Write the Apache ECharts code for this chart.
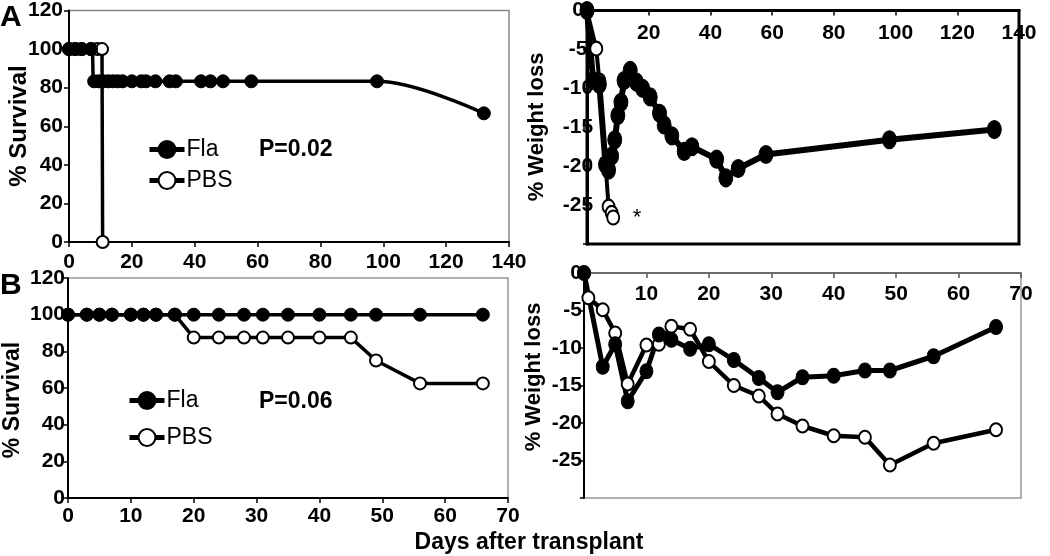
<!DOCTYPE html>
<html>
<head>
<meta charset="utf-8">
<script src="https://cdn.jsdelivr.net/npm/echarts@6/dist/echarts.min.js"></script>
<style>
  html, body { margin: 0; padding: 0; background: #fff; }
  #chart { width: 1050px; height: 556px; }
</style>
</head>
<body>
<div id="chart"></div>
<script>
// panel A - survival (day, %)
var survA_fla = [[0,100],[2,100],[4,100],[7,100],[8,83.3],[9.5,83.3],[11,83.3],[12.5,83.3],[14,83.3],[15.5,83.3],[17,83.3],[20,83.3],[23,83.3],[24.5,83.3],[27.5,83.3],[32,83.3],[34,83.3],[42,83.3],[45,83.3],[49,83.3],[58,83.3],[98,83.3],[132,66.7]];
var survA_pbs = [[0,100],[2,100],[4,100],[7,100],[9,100],[10.5,100],[10.7,0]];

// panel A - weight loss (day, %)
var wtA_fla = [[0,0],[2,-9],[4,-9.5],[6,-19.8],[7,-20.5],[8,-18.7],[9,-16.6],[10,-13.5],[11,-11.8],[12,-9],[14,-7.7],[16,-9.2],[18,-10],[20.5,-11.1],[23.5,-13.2],[25,-14.7],[27.5,-16.1],[31.5,-18.1],[34,-17.5],[42,-19.1],[45,-21.5],[49,-20.3],[58,-18.5],[98,-16.6],[132,-15.3]];
var wtA_pbs = [[0,0],[3,-4.9],[4,-9],[7,-25.2],[8,-26],[8.5,-26.6]];

// panel B - survival
var survB_days = [0,3,5,7,10,12,14,17,20,24,28,31,35,40,45,49,56,66];
var survB_fla = [100,100,100,100,100,100,100,100,100,100,100,100,100,100,100,100,100,100];
var survB_pbs = [100,100,100,100,100,100,100,100,87.5,87.5,87.5,87.5,87.5,87.5,87.5,75,62.5,62.5];

// panel B - weight loss
var wtB_fla_days = [0,3,5,7,10,12,14,17,20,24,28,31,35,40,45,49,56,66];
var wtB_fla = [0,-12.5,-9.5,-17.1,-13.1,-8.2,-8.9,-10.1,-9.5,-11.6,-14,-15.9,-13.9,-13.7,-13,-13,-11.1,-7.2];
var wtB_pbs_days = [0,0.7,3,5,7,10,12,14,17,20,24,28,31,35,40,45,49,56,66];
var wtB_pbs = [0,-3.3,-4.9,-8,-14.8,-9.6,-9.5,-7.1,-7.5,-11.8,-15,-16.4,-18.8,-20.4,-21.7,-21.9,-25.6,-22.7,-20.9];

function zip(a, b) {
    var out = [];
    for (var i = 0; i < a.length; i++) out.push([a[i], b[i]]);
    return out;
}

var FONT = 'Liberation Sans, Arial, Helvetica, sans-serif';
var tickLbl = { color: '#000', fontFamily: FONT, fontWeight: 'bold', fontSize: 21 };

function survX(idx, max, interval, margin) {
    return {
        gridIndex: idx, type: 'value', min: 0, max: max, interval: interval,
        axisLine: { lineStyle: { color: '#000', width: 2 } },
        axisTick: { length: 5, lineStyle: { color: '#000', width: 1.5 } },
        axisLabel: Object.assign({ margin: margin }, tickLbl),
        splitLine: { show: false }
    };
}
function survY(idx, margin) {
    return {
        gridIndex: idx, type: 'value', min: 0, max: 120, interval: 20,
        axisLine: { show: true, lineStyle: { color: '#000', width: 2 } },
        axisTick: { show: true, length: 5, lineStyle: { color: '#000', width: 1.5 } },
        axisLabel: Object.assign({ margin: margin }, tickLbl),
        splitLine: { show: false }
    };
}
function wtX(idx, max, interval, margin, col, w) {
    return {
        gridIndex: idx, type: 'value', position: 'top', min: 0, max: max, interval: interval,
        axisLine: { lineStyle: { color: col, width: w } },
        axisTick: { inside: true, length: 5, lineStyle: { color: col, width: 1.5 } },
        axisLabel: Object.assign({
            inside: true, margin: margin,
            formatter: function (v) { return v === 0 ? '' : v; }
        }, tickLbl),
        splitLine: { show: false }
    };
}
function wtY(idx, margin, align, w) {
    return {
        gridIndex: idx, type: 'value', min: -30, max: 0, interval: 5,
        axisLine: { show: true, lineStyle: { color: '#000', width: w } },
        axisTick: { show: true, length: 4, lineStyle: { color: '#000', width: 1.5 } },
        axisLabel: Object.assign({
            margin: margin, align: align,
            formatter: function (v) { return v === -30 ? '' : v; }
        }, tickLbl),
        splitLine: { show: false }
    };
}

function fla(data, xi, size, lw, smooth) {
    return {
        name: 'Fla', type: 'line', xAxisIndex: xi, yAxisIndex: xi, data: data,
        symbol: 'circle', symbolSize: size, smooth: smooth || false,
        lineStyle: { color: '#000', width: lw },
        itemStyle: { color: '#000', borderColor: '#000', borderWidth: 1 },
        emphasis: { disabled: true }, animation: false
    };
}
function pbs(data, xi, size, lw) {
    return {
        name: 'PBS', type: 'line', xAxisIndex: xi, yAxisIndex: xi, data: data,
        symbol: 'circle', symbolSize: size,
        lineStyle: { color: '#000', width: lw },
        itemStyle: { color: '#fff', borderColor: '#000', borderWidth: 2 },
        emphasis: { disabled: true }, animation: false
    };
}

function legendAt(left, top, gap) {
    return {
        orient: 'vertical', left: left, top: top, itemGap: gap,
        itemWidth: 35, itemHeight: 21, selectedMode: false,
        data: ['Fla', 'PBS'],
        lineStyle: { width: 5, color: '#000' },
        textStyle: { color: '#000', fontFamily: FONT, fontSize: 23, padding: [0, 0, 0, -3] }
    };
}

function txt(x, y, text, size, bold, rot, align) {
    return {
        type: 'text', x: x, y: y, rotation: rot || 0,
        style: {
            text: text, fill: '#000',
            font: (bold ? 'bold ' : '') + size + 'px ' + FONT,
            textAlign: align || 'center', textVerticalAlign: 'middle'
        }
    };
}

var chart = echarts.init(document.getElementById('chart'));
chart.setOption({
    backgroundColor: '#fff',
    animation: false,
    grid: [
        { left: 69, right: 541, top: 7, bottom: 314, show: true, borderColor: '#888', borderWidth: 1.5 },
        { left: 587, right: 31, top: 10, bottom: 312, show: true, borderColor: '#000', borderWidth: 3 },
        { left: 68, right: 542, top: 278, bottom: 58, show: true, borderColor: '#999', borderWidth: 1.5 },
        { left: 584, right: 29, top: 273, bottom: 58, show: true, borderColor: '#999', borderWidth: 1.5 }
    ],
    xAxis: [
        survX(0, 140, 20, 10),
        wtX(1, 140, 20, 12, '#000', 3),
        survX(2, 70, 10, 8),
        wtX(3, 70, 10, 11, '#555', 1.5)
    ],
    yAxis: [
        survY(0, 6),
        wtY(1, 9, 'center', 3),
        survY(2, 3),
        wtY(3, 2, 'right', 2)
    ],
    legend: [legendAt(142, 133, 8), legendAt(122, 384, 14)],
    series: [
        pbs(survA_pbs, 0, 12, 3.5),
        fla(survA_fla, 0, 13, 3.5, 0.35),
        pbs(wtA_pbs, 1, [12, 14], 4),
        fla(wtA_fla, 1, [14, 18], 6),
        pbs(zip(survB_days, survB_pbs), 2, 12, 3.5),
        fla(zip(survB_days, survB_fla), 2, 13, 3.5),
        pbs(zip(wtB_pbs_days, wtB_pbs), 3, [12, 13], 4.5),
        fla(zip(wtB_fla_days, wtB_fla), 3, [13, 15], 5)
    ],
    graphic: [
        txt(0, 18, 'A', 30, true, 0, 'left'),
        txt(0, 286, 'B', 30, true, 0, 'left'),
        txt(19, 126, '% Survival', 24, true, Math.PI / 2),
        txt(13, 400, '% Survival', 23, true, Math.PI / 2),
        txt(537, 127, '% Weight loss', 22, true, Math.PI / 2),
        txt(534, 377, '% Weight loss', 22, true, Math.PI / 2),
        txt(529, 543, 'Days after transplant', 23, true, 0),
        txt(259, 150, 'P=0.02', 23, true, 0, 'left'),
        txt(259, 402, 'P=0.06', 23, true, 0, 'left'),
        txt(637, 218, '*', 22, false, 0)
    ]
});
</script>
</body>
</html>
